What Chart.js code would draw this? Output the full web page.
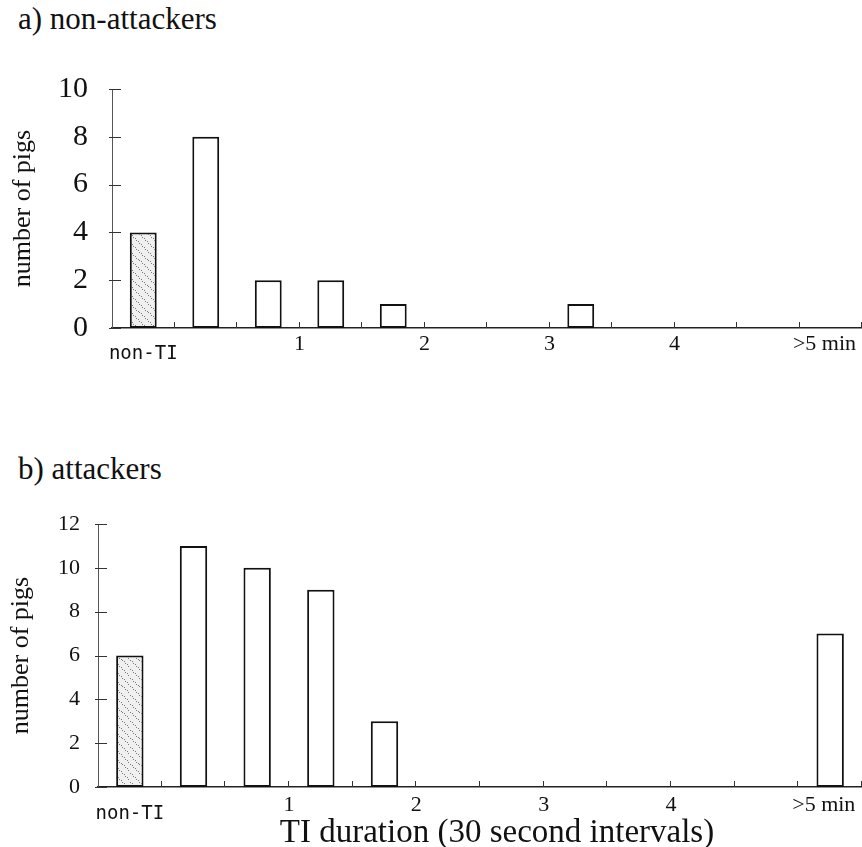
<!DOCTYPE html>
<html>
<head>
<meta charset="utf-8">
<script src="https://cdn.jsdelivr.net/npm/chart.js@4.4.1/dist/chart.umd.min.js"></script>
<style>
  body { margin: 0; background: #fff; }
  #page { position: relative; width: 862px; height: 847px; font-family: 'Liberation Serif', serif; color: #111; }
  .heading { position: absolute; left: 18px; font-size: 31px; line-height: 1; white-space: nowrap; }
  canvas { position: absolute; left: 0; }
  #xTitle { position: absolute; left: 497px; top: 815px; transform: translateX(-50%); font-size: 33px; line-height: 1; white-space: nowrap; }
</style>
</head>
<body>
<div id="page">
  <div class="heading" style="top:3px">a) non-attackers</div>
  <canvas id="chartA" width="862" height="385" style="top:0"></canvas>
  <div class="heading" style="top:453px">b) attackers</div>
  <canvas id="chartB" width="862" height="447" style="top:400px"></canvas>
  <div id="xTitle">TI duration (30 second intervals)</div>
</div>
<script>
// TI duration classes: non-TI, then 30 s bins, then everything over 5 min
const categories = ['non-TI', '0-0.5', '0.5-1', '1-1.5', '1.5-2', '2-2.5', '2.5-3', '3-3.5', '3.5-4', '4-4.5', '4.5-5', '>5'];
const nonAttackers = [4, 8, 2, 2, 1, 0, 0, 1, 0, 0, 0, 0];
const attackers = [6, 11, 10, 9, 3, 0, 0, 0, 0, 0, 0, 7];

// x axis labels: whole minutes sit on bin edges, the end classes get their own label
const minuteLabels = [1, 2, 3, 4];
const firstLabel = 'non-TI';
const lastLabel = '>5 min';

const yTicksA = { max: 10, step: 2 };
const yTicksB = { max: 12, step: 2 };

const serif = 'Liberation Serif';

// stippled grey fill for the non-TI bar
function makeStipple(ctx) {
  const c = document.createElement('canvas');
  c.width = 26; c.height = 26;
  const g = c.getContext('2d');
  g.fillStyle = '#f0f0f0';
  g.fillRect(0, 0, 26, 26);
  g.fillStyle = '#7a7a7a';
  for (let y = 0; y < 26; y++) {
    for (let x = 0; x < 26; x++) {
      if ((x * 7 + y * 11 + x * y) % 9 === 0) g.fillRect(x, y, 1, 1);
    }
  }
  return ctx.createPattern(c, 'repeat');
}

// short tick marks pointing into the plot
const innerTicks = {
  id: 'innerTicks',
  afterDatasetsDraw(chart) {
    const { ctx, chartArea, scales } = chart;
    ctx.save();
    ctx.strokeStyle = '#333';
    ctx.lineWidth = 1;
    ctx.beginPath();
    for (let k = 1; k <= categories.length; k++) {
      const px = Math.round(scales.xl.getPixelForValue(k)) - 0.5;
      ctx.moveTo(px, chartArea.bottom);
      ctx.lineTo(px, chartArea.bottom - 6);
    }
    scales.y.ticks.forEach(t => {
      const py = Math.round(scales.y.getPixelForValue(t.value)) + 0.5;
      ctx.moveTo(chartArea.left - 3, py);
      ctx.lineTo(chartArea.left + 9, py);
    });
    ctx.stroke();
    ctx.restore();
  }
};

function labelTicks() {
  const ticks = [{ value: 0.5 }];
  minuteLabels.forEach(m => ticks.push({ value: 1 + 2 * m }));
  ticks.push({ value: categories.length - 0.6 });
  return ticks;
}

function labelText(v) {
  if (v === 0.5) return firstLabel;
  if (v > categories.length - 1) return lastLabel;
  return String((v - 1) / 2);
}

function makeChart(id, values, yt, s) {
  const canvas = document.getElementById(id);
  const ctx = canvas.getContext('2d');
  const stipple = makeStipple(ctx);
  return new Chart(ctx, {
    type: 'bar',
    data: {
      labels: categories,
      datasets: [{
        data: values,
        backgroundColor: values.map((v, i) => i === 0 ? stipple : '#ffffff'),
        borderColor: '#111',
        borderWidth: 2,
        borderSkipped: false,
        barPercentage: 0.43,
        categoryPercentage: 1
      }]
    },
    options: {
      responsive: false,
      animation: false,
      devicePixelRatio: 1,
      layout: { padding: { top: s.top, left: 0, right: 0, bottom: 0 } },
      plugins: { legend: { display: false }, tooltip: { enabled: false } },
      scales: {
        x: { display: false },
        xl: {
          type: 'linear',
          position: 'bottom',
          offset: false,
          min: 0,
          max: categories.length,
          grid: { display: false, drawTicks: false, offset: false },
          border: { display: true, color: '#222', width: 1.5, dash: [14, 2] },
          afterBuildTicks: axis => { axis.ticks = labelTicks(); },
          afterFit: scale => {
            scale.height = s.xHeight;
            scale.paddingLeft = 0;
            scale.paddingRight = 0;
          },
          ticks: {
            autoSkip: false,
            maxRotation: 0,
            padding: s.xPad,
            color: '#111',
            callback: v => labelText(v),
            font: c => (c.tick && c.tick.value === 0.5)
              ? { family: 'DejaVu Sans Mono', size: 19, lineHeight: s.nonTiLine }
              : { family: serif, size: 22, lineHeight: 1.2 }
          }
        },
        y: {
          min: 0,
          max: yt.max,
          grid: { display: false, drawTicks: false },
          border: { display: true, color: '#555', width: 1, dash: [5, 3] },
          afterFit: scale => {
            scale.width = s.yWidth;
            scale.paddingTop = 0;
            scale.paddingBottom = 0;
          },
          ticks: {
            stepSize: yt.step,
            padding: s.yPad,
            color: '#111',
            font: { family: serif, size: s.yFont }
          },
          title: {
            display: true,
            text: 'number of pigs',
            color: '#111',
            font: { family: serif, size: 26, lineHeight: 1.2 },
            padding: { top: s.titlePad, bottom: 0 }
          }
        }
      }
    },
    plugins: [innerTicks]
  });
}

makeChart('chartA', nonAttackers, yTicksA, {
  top: 89, xHeight: 57, xPad: 3, nonTiLine: 2.4, yWidth: 112, yPad: 24, yFont: 30, titlePad: 8
});
makeChart('chartB', attackers, yTicksB, {
  top: 124, xHeight: 60, xPad: 5, nonTiLine: 2.3, yWidth: 98, yPad: 18, yFont: 22, titlePad: 6
});
</script>
</body>
</html>
